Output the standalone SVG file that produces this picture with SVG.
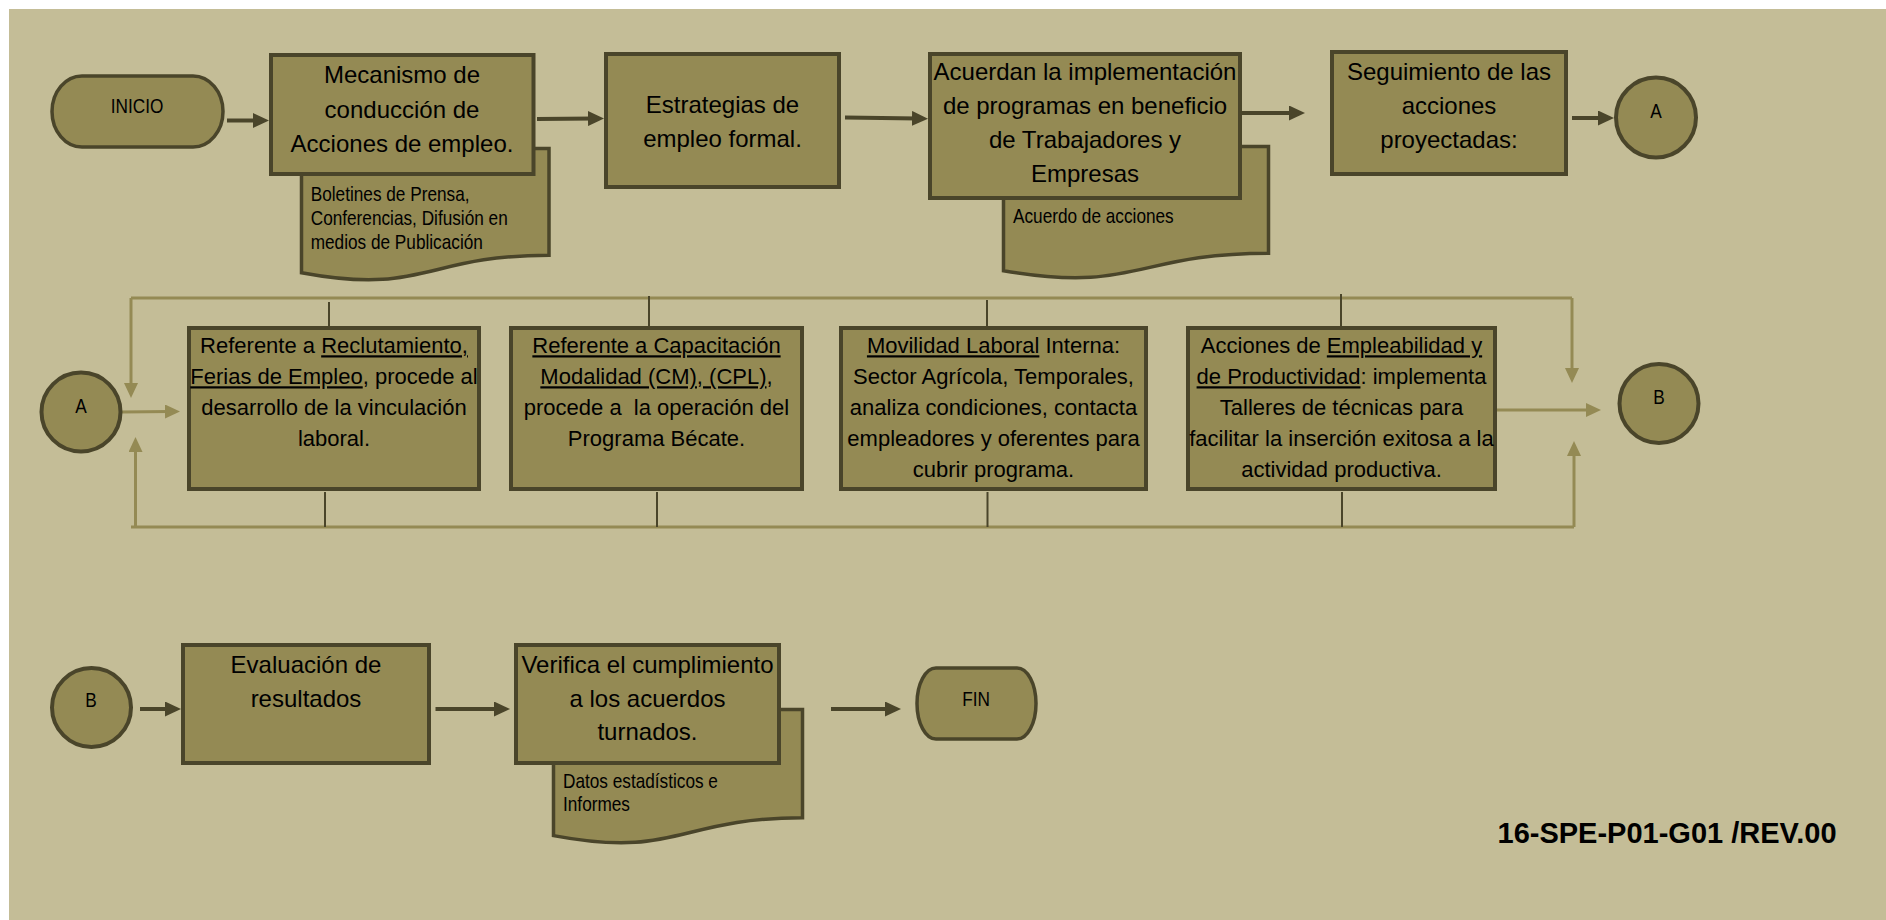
<svg xmlns="http://www.w3.org/2000/svg" width="1886" height="920" viewBox="0 0 1886 920">
<defs>
<style>
.bg{fill:#C4BD97}
.box{fill:#948A54;stroke:#4A452A;stroke-width:4}
.doc{fill:#948A54;stroke:#4A452A;stroke-width:3.5}
.t{font-family:"Liberation Sans",Arial,sans-serif;fill:#000}
.big{font-size:24px}
.mid{font-size:22px}
.sm{font-size:21px}
.code{font-size:29px;font-weight:bold}
.u{text-decoration:underline}
.dk{stroke:#4A452A;stroke-width:4;fill:none}
.lt{stroke:#948A54;stroke-width:3;fill:none}
.tick{stroke:#4A452A;stroke-width:2;fill:none}
</style>
<marker id="ad" markerUnits="userSpaceOnUse" viewBox="0 0 16 15" markerWidth="16" markerHeight="15" refX="6" refY="7.5" orient="auto"><path d="M0,0 L16,7.5 L0,15 z" fill="#4A452A"/></marker>
<marker id="al" markerUnits="userSpaceOnUse" viewBox="0 0 15 14" markerWidth="15" markerHeight="14" refX="5" refY="7" orient="auto"><path d="M0,0 L15,7 L0,14 z" fill="#948A54"/></marker>
<clipPath id="clip1"><rect x="300" y="175" width="250" height="74.3"/></clipPath>
<clipPath id="clip3"><rect x="552" y="765" width="250" height="46.5"/></clipPath>
</defs>
<rect x="0" y="0" width="1886" height="920" fill="#fff"/>
<rect class="bg" x="9" y="9" width="1877" height="911"/>

<g id="connectors">
<line class="dk" x1="227" y1="120.5" x2="259" y2="120.5" marker-end="url(#ad)"/>
<line class="dk" x1="537" y1="119" x2="594" y2="118.5" marker-end="url(#ad)"/>
<line class="dk" x1="845" y1="117.5" x2="918" y2="118.5" marker-end="url(#ad)"/>
<line class="dk" x1="1242" y1="113" x2="1295" y2="113" marker-end="url(#ad)"/>
<line class="dk" x1="1572" y1="118" x2="1604" y2="118" marker-end="url(#ad)"/>
<line class="dk" x1="140" y1="709" x2="171" y2="709" marker-end="url(#ad)"/>
<line class="dk" x1="435.5" y1="709" x2="500" y2="709" marker-end="url(#ad)"/>
<line class="dk" x1="831" y1="709" x2="891" y2="709" marker-end="url(#ad)"/>
<path class="lt" d="M131,298 H1572"/>
<path class="lt" d="M131,527 H1574"/>
<line class="lt" x1="131" y1="298" x2="131" y2="388" marker-end="url(#al)"/>
<line class="lt" x1="1572" y1="298" x2="1572" y2="373" marker-end="url(#al)"/>
<line class="lt" x1="135.5" y1="527" x2="135.5" y2="447" marker-end="url(#al)"/>
<line class="lt" x1="1574" y1="527" x2="1574" y2="451" marker-end="url(#al)"/>
<line class="lt" x1="122" y1="412" x2="170" y2="411.5" marker-end="url(#al)"/>
<line class="lt" x1="1497" y1="410" x2="1591" y2="410" marker-end="url(#al)"/>
<line class="tick" x1="329" y1="302" x2="329" y2="326"/>
<line class="tick" x1="649" y1="296" x2="649" y2="326"/>
<line class="tick" x1="987" y1="300" x2="987" y2="326"/>
<line class="tick" x1="1341" y1="294" x2="1341" y2="346"/>
<line class="tick" x1="325" y1="492" x2="325" y2="527"/>
<line class="tick" x1="657" y1="492" x2="657" y2="527"/>
<line class="tick" x1="987.5" y1="492" x2="987.5" y2="527"/>
<line class="tick" x1="1342" y1="492" x2="1342" y2="527"/>
</g>

<g id="inicio">
<rect class="box" style="stroke-width:3.5" x="52" y="76" width="171" height="71" rx="30" ry="35.5"/>
<text class="t sm" text-anchor="middle" transform="translate(137,113.3) scale(0.82,1)">INICIO</text>
</g>

<g id="doc-boletines">
<path class="doc" d="M301.5,148.5 H549 V255.2 C425,255.2 425,295.7 301.5,272.7 Z"/>
<g clip-path="url(#clip1)">
<text class="t sm" transform="translate(310.7,0) scale(0.82,1)"><tspan x="0" y="200.7">Boletines de Prensa,</tspan><tspan x="0" y="225">Conferencias, Difusión en</tspan><tspan x="0" y="249.5">medios de Publicación</tspan></text>
</g>
</g>

<g id="mecanismo">
<rect class="box" x="271" y="55" width="262.5" height="119"/>
<text class="t big" text-anchor="middle"><tspan x="402" y="83">Mecanismo de</tspan><tspan x="402" y="117.5">conducción de</tspan><tspan x="402" y="152">Acciones de empleo.</tspan></text>
</g>

<g id="estrategias">
<rect class="box" x="606" y="54" width="233" height="133"/>
<text class="t big" text-anchor="middle"><tspan x="722.5" y="113">Estrategias de</tspan><tspan x="722.5" y="147">empleo formal.</tspan></text>
</g>

<g id="doc-acuerdo">
<path class="doc" d="M1003.5,146.5 H1268.5 V253.2 C1136,253.2 1136,293.7 1003.5,270.7 Z"/>
<text class="t sm" transform="translate(1013,0) scale(0.82,1)"><tspan x="0" y="223">Acuerdo de acciones</tspan></text>
</g>

<g id="acuerdan">
<rect class="box" x="930" y="54" width="310" height="144"/>
<text class="t big" text-anchor="middle"><tspan x="1085" y="80">Acuerdan la implementación</tspan><tspan x="1085" y="114">de programas en beneficio</tspan><tspan x="1085" y="148">de Trabajadores y</tspan><tspan x="1085" y="182">Empresas</tspan></text>
</g>

<g id="seguimiento">
<rect class="box" x="1332" y="52" width="234" height="122"/>
<text class="t big" text-anchor="middle"><tspan x="1449" y="80">Seguimiento de las</tspan><tspan x="1449" y="114">acciones</tspan><tspan x="1449" y="148">proyectadas:</tspan></text>
</g>

<g id="conector-a-salida">
<circle class="box" cx="1656" cy="117.5" r="40"/>
<text class="t sm" text-anchor="middle" transform="translate(1656,118.3) scale(0.82,1)">A</text>
</g>

<g id="conector-a-entrada">
<circle class="box" cx="81" cy="412" r="39.5"/>
<text class="t sm" text-anchor="middle" transform="translate(81,412.5) scale(0.82,1)">A</text>
</g>

<g id="reclutamiento">
<rect class="box" x="189" y="328" width="290" height="161"/>
<text class="t mid" text-anchor="middle"><tspan x="334" y="353.3">Referente a <tspan class="u">Reclutamiento,</tspan></tspan><tspan x="334" y="384.3"><tspan class="u">Ferias de Empleo</tspan>, procede al</tspan><tspan x="334" y="415">desarrollo de la vinculación</tspan><tspan x="334" y="446">laboral.</tspan></text>
</g>

<g id="capacitacion">
<rect class="box" x="511" y="328" width="291" height="161"/>
<text class="t mid" text-anchor="middle" xml:space="preserve"><tspan x="656.5" y="353.3" class="u">Referente a Capacitación</tspan><tspan x="656.5" y="384.3"><tspan class="u">Modalidad (CM), (CPL)</tspan>,</tspan><tspan x="656.5" y="415">procede a  la operación del</tspan><tspan x="656.5" y="446">Programa Bécate.</tspan></text>
</g>

<g id="movilidad">
<rect class="box" x="841" y="328" width="305" height="161"/>
<text class="t mid" text-anchor="middle"><tspan x="993.5" y="353.3"><tspan class="u">Movilidad Laboral</tspan> Interna:</tspan><tspan x="993.5" y="384.3">Sector Agrícola, Temporales,</tspan><tspan x="993.5" y="415">analiza condiciones, contacta</tspan><tspan x="993.5" y="446">empleadores y oferentes para</tspan><tspan x="993.5" y="476.7">cubrir programa.</tspan></text>
</g>

<g id="empleabilidad">
<rect class="box" x="1188" y="328" width="307" height="161"/>
<text class="t mid" text-anchor="middle"><tspan x="1341.5" y="353.3">Acciones de <tspan class="u">Empleabilidad y</tspan></tspan><tspan x="1341.5" y="384.3"><tspan class="u">de Productividad</tspan>: implementa</tspan><tspan x="1341.5" y="415">Talleres de técnicas para</tspan><tspan x="1341.5" y="446">facilitar la inserción exitosa a la</tspan><tspan x="1341.5" y="476.7">actividad productiva.</tspan></text>
</g>

<g id="conector-b-salida">
<circle class="box" cx="1659" cy="403.5" r="39.5"/>
<text class="t sm" text-anchor="middle" transform="translate(1659,404) scale(0.82,1)">B</text>
</g>

<g id="conector-b-entrada">
<circle class="box" cx="91.5" cy="707.5" r="39.5"/>
<text class="t sm" text-anchor="middle" transform="translate(91,707) scale(0.82,1)">B</text>
</g>

<g id="evaluacion">
<rect class="box" x="183" y="645" width="246" height="118"/>
<text class="t big" text-anchor="middle"><tspan x="306" y="673">Evaluación de</tspan><tspan x="306" y="707">resultados</tspan></text>
</g>

<g id="doc-datos">
<path class="doc" d="M553.5,709.5 H802.5 V817.8 C678,817.8 678,859 553.5,835.6 Z"/>
<g clip-path="url(#clip3)">
<text class="t sm" transform="translate(563,0) scale(0.82,1)"><tspan x="0" y="788">Datos estadísticos e</tspan><tspan x="0" y="811.5">Informes</tspan></text>
</g>
</g>

<g id="verifica">
<rect class="box" x="516" y="645" width="263" height="118"/>
<text class="t big" text-anchor="middle"><tspan x="647.5" y="673">Verifica el cumplimiento</tspan><tspan x="647.5" y="706.5">a los acuerdos</tspan><tspan x="647.5" y="740">turnados.</tspan></text>
</g>

<g id="fin">
<rect class="box" style="stroke-width:3.5" x="917" y="668" width="119" height="71" rx="19" ry="35.5"/>
<text class="t sm" text-anchor="middle" transform="translate(976,706) scale(0.82,1)">FIN</text>
</g>

<g id="codigo">
<text class="t code" x="1497.5" y="843">16-SPE-P01-G01 /REV.00</text>
</g>
</svg>
